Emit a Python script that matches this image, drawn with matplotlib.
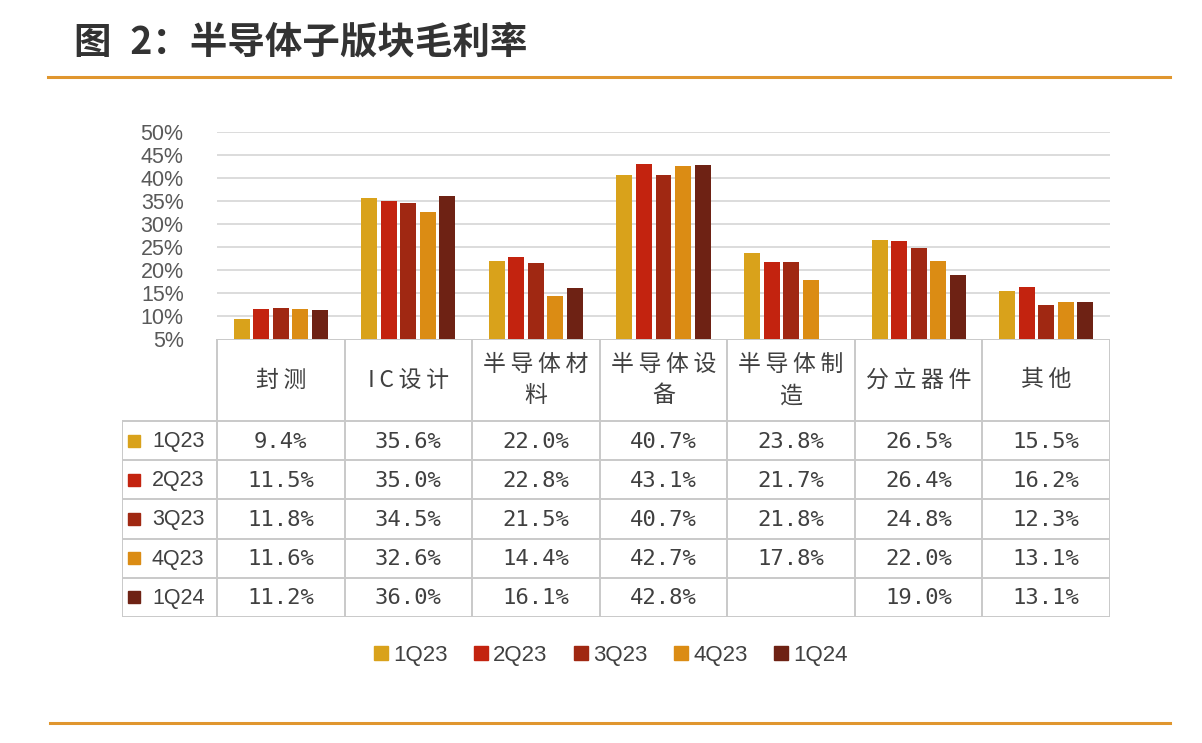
import numpy as np
import matplotlib
matplotlib.use("Agg")
import matplotlib.pyplot as plt
from matplotlib.lines import Line2D

# ---------------- data ----------------
categories = ["封测", "IC设计", "半导体材料", "半导体设备", "半导体制造", "分立器件", "其他"]
header_lines = [["封测"], ["IC设计"], ["半导体材", "料"], ["半导体设", "备"],
                ["半导体制", "造"], ["分立器件"], ["其他"]]
series_names = ["1Q23", "2Q23", "3Q23", "4Q23", "1Q24"]
v_1q23 = [9.4, 35.6, 22.0, 40.7, 23.8, 26.5, 15.5]
v_2q23 = [11.5, 35.0, 22.8, 43.1, 21.7, 26.4, 16.2]
v_3q23 = [11.8, 34.5, 21.5, 40.7, 21.8, 24.8, 12.3]
v_4q23 = [11.6, 32.6, 14.4, 42.7, 17.8, 22.0, 13.1]
v_1q24 = [11.2, 36.0, 16.1, 42.8, np.nan, 19.0, 13.1]
series_values = [v_1q23, v_2q23, v_3q23, v_4q23, v_1q24]
y_ticks = [5, 10, 15, 20, 25, 30, 35, 40, 45, 50]
title = "图 2：半导体子版块毛利率"

colors = ["#D9A21B", "#C3230F", "#A02812", "#DB8C14", "#6E2214"]

# ---------------- figure ----------------
W, H = 1202, 743
fig = plt.figure(figsize=(W / 100, H / 100), dpi=100)
fig.patch.set_facecolor("white")

def fx(px):
    return px / W

def fy(py):
    return 1 - py / H

CJK = ["Noto Sans CJK SC", "DejaVu Sans"]
TXT = "#404040"

# title and decorative rules
fig.text(fx(74), fy(42), title.replace(" ", "\u2002"), fontsize=27, fontweight="bold",
         color="#333333", family=CJK, va="center", ha="left")
fig.add_artist(Line2D([fx(48), fx(1170)], [fy(77), fy(77)], color="#E0962E", lw=2.2))
fig.add_artist(Line2D([fx(50), fx(1170)], [fy(723), fy(723)], color="#E0962E", lw=2.2))

# ---------------- bar axes ----------------
left, right, top, bottom = 217, 1110, 132, 339
ax = fig.add_axes([fx(left), fy(bottom), fx(right - left), (bottom - top) / H])
n = len(categories)
x = np.arange(n)
pitch = 0.153
bw = 0.125
for i, (vals, c) in enumerate(zip(series_values, colors)):
    ax.bar(x + (i - 2) * pitch, vals, width=bw, color=c, label=series_names[i], zorder=3)
ax.set_xlim(-0.5, n - 0.5)
ax.set_ylim(5, 50)
ax.set_yticks(y_ticks)
ax.set_yticklabels([f"{t}%" for t in y_ticks], family=["Liberation Sans"], fontsize=15.5,
                   color="#595959")
ax.tick_params(axis="y", length=0, pad=24)
ax.set_xticks([])
for s in ax.spines.values():
    s.set_visible(False)
for t in y_ticks[1:]:
    ax.axhline(t, color="#D9D9D9", lw=1.3, zorder=1)

# ---------------- data table ----------------
tleft, ttop, tbottom, hdr_bottom = 122, 339, 617, 421
tax = fig.add_axes([fx(tleft), fy(tbottom), fx(right - tleft), (tbottom - ttop) / H])
tax.set_xlim(tleft, right)
tax.set_ylim(tbottom, ttop)
tax.axis("off")
gc = "#C9C9C9"
glw = 1.4
colw = (right - left) / n
col_edges = [left + k * colw for k in range(n + 1)]
row_h = (tbottom - hdr_bottom) / len(series_names)
row_edges = [hdr_bottom + k * row_h for k in range(len(series_names) + 1)]

# horizontal lines
tax.plot([left, right], [ttop, ttop], color=gc, lw=glw)
for ry in row_edges:
    tax.plot([tleft, right], [ry, ry], color=gc, lw=glw)
# vertical lines
tax.plot([tleft, tleft], [hdr_bottom, tbottom], color=gc, lw=glw)
for cx in col_edges:
    tax.plot([cx, cx], [ttop, tbottom], color=gc, lw=glw)

sp = "\u2009"
# header
for j, lines in enumerate(header_lines):
    cx = (col_edges[j] + col_edges[j + 1]) / 2
    txt = "\n".join(sp.join(list(l)) for l in lines)
    tax.text(cx, (ttop + hdr_bottom) / 2, txt, ha="center", va="center", fontsize=16.5,
             family=CJK, color=TXT, linespacing=1.5)

# rows
for i, (name, vals) in enumerate(zip(series_names, series_values)):
    cy = (row_edges[i] + row_edges[i + 1]) / 2
    tax.plot([134], [cy], marker="s", markersize=8, color=colors[i], linestyle="none")
    tax.text(152, cy + 1, name, ha="left", va="center", fontsize=15.5,
             family=["Liberation Sans"], color=TXT)
    for j, v in enumerate(vals):
        if np.isnan(v):
            continue
        cx = (col_edges[j] + col_edges[j + 1]) / 2
        tax.text(cx, cy + 1, f"{v:.1f}%", ha="center", va="center", fontsize=16,
                 family=["DejaVu Sans Mono"], color=TXT)

# ---------------- legend ----------------
handles = [Line2D([], [], marker="s", linestyle="none", markersize=9.5, color=c) for c in colors]
fig.legend(handles, series_names, loc="center", bbox_to_anchor=(fx(611), fy(655)), ncol=5,
           frameon=False, prop={"family": "Liberation Sans", "size": 16},
           handlelength=0.6, handletextpad=0.25, columnspacing=1.2, labelcolor=TXT)

fig.savefig("out.png", dpi=100, facecolor="white")
